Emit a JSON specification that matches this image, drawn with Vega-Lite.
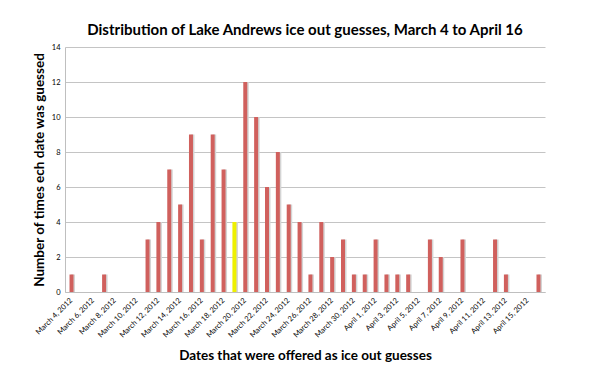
{
  "$schema": "https://vega.github.io/schema/vega-lite/v6.json",
  "autosize": "none",
  "width": 480,
  "height": 245,
  "padding": {"left": 65, "top": 47, "right": 55, "bottom": 90},
  "background": "white",
  "title": {
    "text": "Distribution of Lake Andrews ice out guesses, March 4 to April 16",
    "font": "Lato",
    "fontSize": 15,
    "fontWeight": "bold",
    "color": "#000000",
    "anchor": "middle",
    "offset": 5
  },
  "config": {
    "view": {"stroke": null},
    "axis": {"labelFont": "Lato", "titleFont": "Lato", "labelColor": "#000000", "titleColor": "#000000"}
  },
  "data": {
    "values": [
      {"d": "March 4, 2012", "n": 1},
      {"d": "March 5, 2012", "n": 0},
      {"d": "March 6, 2012", "n": 0},
      {"d": "March 7, 2012", "n": 1},
      {"d": "March 8, 2012", "n": 0},
      {"d": "March 9, 2012", "n": 0},
      {"d": "March 10, 2012", "n": 0},
      {"d": "March 11, 2012", "n": 3},
      {"d": "March 12, 2012", "n": 4},
      {"d": "March 13, 2012", "n": 7},
      {"d": "March 14, 2012", "n": 5},
      {"d": "March 15, 2012", "n": 9},
      {"d": "March 16, 2012", "n": 3},
      {"d": "March 17, 2012", "n": 9},
      {"d": "March 18, 2012", "n": 7},
      {"d": "March 19, 2012", "n": 4},
      {"d": "March 20, 2012", "n": 12},
      {"d": "March 21, 2012", "n": 10},
      {"d": "March 22, 2012", "n": 6},
      {"d": "March 23, 2012", "n": 8},
      {"d": "March 24, 2012", "n": 5},
      {"d": "March 25, 2012", "n": 4},
      {"d": "March 26, 2012", "n": 1},
      {"d": "March 27, 2012", "n": 4},
      {"d": "March 28, 2012", "n": 2},
      {"d": "March 29, 2012", "n": 3},
      {"d": "March 30, 2012", "n": 1},
      {"d": "March 31, 2012", "n": 1},
      {"d": "April 1, 2012", "n": 3},
      {"d": "April 2, 2012", "n": 1},
      {"d": "April 3, 2012", "n": 1},
      {"d": "April 4, 2012", "n": 1},
      {"d": "April 5, 2012", "n": 0},
      {"d": "April 6, 2012", "n": 3},
      {"d": "April 7, 2012", "n": 2},
      {"d": "April 8, 2012", "n": 0},
      {"d": "April 9, 2012", "n": 3},
      {"d": "April 10, 2012", "n": 0},
      {"d": "April 11, 2012", "n": 0},
      {"d": "April 12, 2012", "n": 3},
      {"d": "April 13, 2012", "n": 1},
      {"d": "April 14, 2012", "n": 0},
      {"d": "April 15, 2012", "n": 0},
      {"d": "April 16, 2012", "n": 1}
    ]
  },
  "encoding": {
    "x": {
      "field": "d",
      "type": "ordinal",
      "sort": null,
      "scale": {"paddingInner": 0, "paddingOuter": 0.1},
      "axis": {
        "title": "Dates that were offered as ice out guesses",
        "titleFontSize": 13.5,
        "titleFontWeight": "bold",
        "titlePadding": 10,
        "values": ["March 4, 2012", "March 6, 2012", "March 8, 2012", "March 10, 2012", "March 12, 2012", "March 14, 2012", "March 16, 2012", "March 18, 2012", "March 20, 2012", "March 22, 2012", "March 24, 2012", "March 26, 2012", "March 28, 2012", "March 30, 2012", "April 1, 2012", "April 3, 2012", "April 5, 2012", "April 7, 2012", "April 9, 2012", "April 11, 2012", "April 13, 2012", "April 15, 2012"],
        "labelAngle": -45,
        "labelAlign": "right",
        "labelBaseline": "middle",
        "labelFontSize": 7.5,
        "labelPadding": 7,
        "ticks": false,
        "domainColor": "#bfbfbf",
        "grid": false
      }
    },
    "y": {
      "field": "n",
      "type": "quantitative",
      "scale": {"domain": [0, 14]},
      "axis": {
        "title": "Number of times ech date was guessed",
        "titleFontSize": 13.5,
        "titleFontWeight": "bold",
        "titlePadding": 5,
        "values": [0, 2, 4, 6, 8, 10, 12, 14],
        "labelFontSize": 7.5,
        "labelPadding": 5,
        "ticks": false,
        "domainColor": "#bfbfbf",
        "gridColor": "#c4c4c4",
        "grid": true
      }
    }
  },
  "layer": [
    {
      "mark": {"type": "bar", "width": 4, "xOffset": 1.5, "color": "#d4d4d4"}
    },
    {
      "mark": {"type": "bar", "width": 4},
      "encoding": {
        "color": {
          "condition": {"test": "datum.d === 'March 19, 2012'", "value": "#eef000"},
          "value": "#d0605d"
        }
      }
    }
  ]
}
